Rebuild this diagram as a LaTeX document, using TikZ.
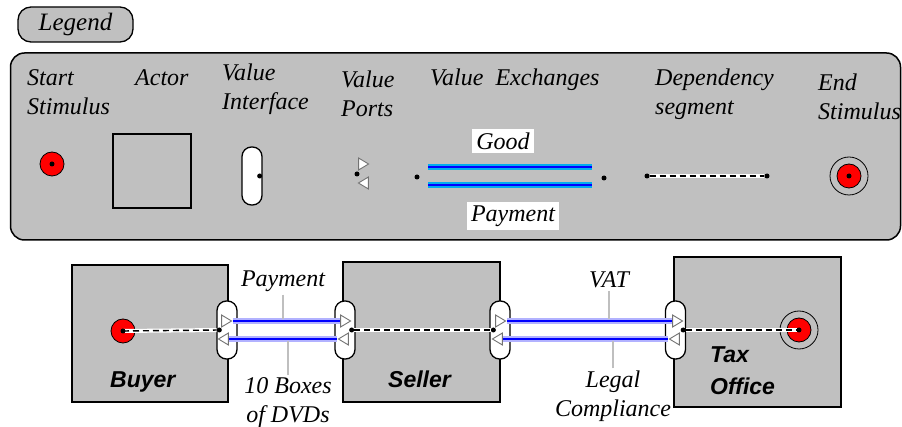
\documentclass[tikz,border=0pt]{standalone}
\usepackage{fontspec}
\setmainfont{Liberation Serif}
\setsansfont{Liberation Sans}
\newfontfamily\tmsit{Liberation Serif Italic}
\usetikzlibrary{shapes, positioning, backgrounds}
\definecolor{panel}{RGB}{192,192,192}

\begin{document}
\begin{tikzpicture}[x=1pt, y=-1pt, inner sep=0pt,
    txt/.style={font=\fontsize{24}{29}\selectfont\tmsit, align=left, anchor=north west},
    aname/.style={font=\fontsize{23}{32}\selectfont\sffamily\bfseries\itshape, align=left},
    ltag/.style={font=\fontsize{24}{29}\selectfont\tmsit, align=center, fill=white, inner sep=3pt},
    actor/.style={draw, line width=1.6pt, fill=panel},
    iface/.style={draw, line width=1.3pt, fill=white, rounded corners=9.5pt, minimum width=20pt, minimum height=58pt},
    dot/.style={circle, fill, minimum size=5pt},
    stim/.style={circle, draw, line width=.8pt, fill=red, minimum size=24pt},
    stimring/.style={circle, draw, line width=.8pt, minimum size=38pt},
    port/.style={isosceles triangle, isosceles triangle stretches, draw=black!55, fill=white, line width=.9pt, minimum width=12pt, minimum height=10pt},
    portr/.style={port, shape border rotate=0},
    portl/.style={port, shape border rotate=180},
    exch/.style={draw=blue, line width=2.6pt, preaction={draw=#1, line width=6pt}},
    exch/.default=blue!30,
    dep/.style={draw, line width=1.4pt, dash pattern=on 6pt off 4pt, preaction={draw=white, solid, line width=4pt}},
    tick/.style={draw=black!25, line width=2pt, shorten >=2pt}]
  \useasboundingbox (0,0) rectangle (902,427);

  % legend
  \node[draw, line width=1.3pt, fill=panel, rounded corners=13pt, minimum width=115pt, minimum height=35pt,
        font=\fontsize{25}{29}\selectfont\tmsit] (leg) at (75.5,24.5) {Legend};
  \node[draw, line width=1.5pt, fill=panel, rounded corners=14pt, minimum width=890pt, minimum height=187pt] (panel) at (455.5,146.5) {};

  \node[txt] (t_start) at (27,69) {Start\\Stimulus};
  \node[txt] (t_actor) at (135,69) {Actor};
  \node[txt] (t_iface) at (222,64) {Value\\Interface};
  \node[txt] (t_ports) at (341,71) {Value\\Ports};
  \node[txt] (t_exch)  at (430,69) {Value\ \ Exchanges};
  \node[txt] (t_dep)   at (655,69) {Dependency\\segment};
  \node[txt] (t_end)   at (818,74) {End\\Stimulus};

  \node[stim] (s_leg) at (52,164) {};
  \node[dot] (s_legd) at (s_leg) {};
  \node[actor, minimum width=78pt, minimum height=74pt] (a_leg) at (152,171) {};
  \node[iface] (i_leg) at (252,176) {};
  \node[dot] (i_legd) at ([xshift=-3pt]i_leg.east) {};
  \node[portr] (p_leg1) at (362,164) {};
  \node[portl] (p_leg2) at (365,183) {};
  \node[dot] (p_legd) at (357,174) {};

  \node[dot] (x_a) at (417,177) {};
  \node[dot] (x_b) at (604,178) {};
  \coordinate (x1a) at (428,167); \coordinate (x1b) at (592,167);
  \coordinate (x2a) at (428,185); \coordinate (x2b) at (592,185);
  \draw[exch=cyan] (x1a) -- (x1b);
  \draw[exch=cyan] (x2a) -- (x2b);
  \node[ltag, inner sep=4pt] (g_leg) at (503,141) {Good};
  \node[ltag, inner sep=4pt] (pay_leg) at (513,216) {Payment};

  \node[dot] (d_a) at (647,176) {};
  \node[dot] (d_b) at (767,176) {};
  \draw[dep] (d_a) -- (d_b);

  \node[stimring] (e_leg) at (849,176) {};
  \node[stim] (e_legs) at (e_leg) {};
  \node[dot] (e_legd) at (e_leg) {};

  % actors
  \node[actor, minimum width=156pt, minimum height=137pt] (buyer)  at (150,333.5) {};
  \node[actor, minimum width=157pt, minimum height=140pt] (seller) at (421.5,332) {};
  \node[actor, minimum width=167pt, minimum height=150pt] (tax)    at (757.5,332) {};
  \node[aname, anchor=base west] (buyer_n)  at (110,388) {Buyer};
  \node[aname, anchor=base west] (seller_n) at (388,388) {Seller};
  \node[aname, anchor=north west] (tax_n)   at (710,346) {Tax\\Office};

  % value interfaces and ports
  \node[iface] (i_buy)  at (227,330) {};
  \node[iface] (i_sel1) at (345,330) {};
  \node[iface] (i_sel2) at (500,330) {};
  \node[iface] (i_tax)  at (675.5,330) {};
  \node[dot] (d_buy)  at ([xshift=3pt]i_buy.west) {};
  \node[dot] (d_sel1) at ([xshift=-4pt]i_sel1.east) {};
  \node[dot] (d_sel2) at ([xshift=4pt]i_sel2.west) {};
  \node[dot] (d_tax)  at ([xshift=-3pt]i_tax.east) {};

  \node[portr] (pb1)  at (225,321) {};
  \node[portl] (pb2)  at (225,339) {};
  \node[portr] (ps1)  at (344,321) {};
  \node[portl] (ps2)  at (345,339) {};
  \node[portr] (ps3)  at (499,321) {};
  \node[portl] (ps4)  at (499,339) {};
  \node[portr] (pt1)  at (676,321) {};
  \node[portl] (pt2)  at (676,339) {};

  % value exchanges
  \draw[exch] (pb1) -- coordinate[pos=.5] (m1) (ps1);
  \draw[exch] (pb2) -- coordinate[pos=.53] (m2) (ps2);
  \draw[exch] (ps3) -- coordinate[pos=.62] (m3) (pt1);
  \draw[exch] (ps4) -- coordinate[pos=.64] (m4) (pt2);

  \node[ltag] (l_pay) at (283,281) {Payment};
  \node[ltag] (l_dvd) at (288,403) {10 Boxes\\of DVDs};
  \node[ltag] (l_vat) at (609,280) {VAT};
  \node[ltag, inner sep=2pt] (l_leg) at (613,396) {Legal\\Compliance};
  \draw[tick] (l_pay) -- (l_pay |- m1);
  \draw[tick] (l_dvd) -- (l_dvd |- m2);
  \draw[tick] (l_vat) -- (l_vat |- m3);
  \draw[tick] (l_leg) -- (l_leg |- m4);

  % stimuli and dependency path
  \node[stim] (s_buy) at (123,331) {};
  \draw[dep] (s_buy.center) -- (d_buy);
  \node[dot] (s_buyd) at (s_buy) {};
  \draw[dep] (d_sel1) -- (d_sel2);
  \node[stimring] (e_tax) at (799,330) {};
  \node[stim] (e_taxs) at (e_tax) {};
  \draw[dep] (d_tax) -- (e_tax.center);
  \node[dot] (e_taxd) at (e_tax) {};
\end{tikzpicture}
\end{document}
